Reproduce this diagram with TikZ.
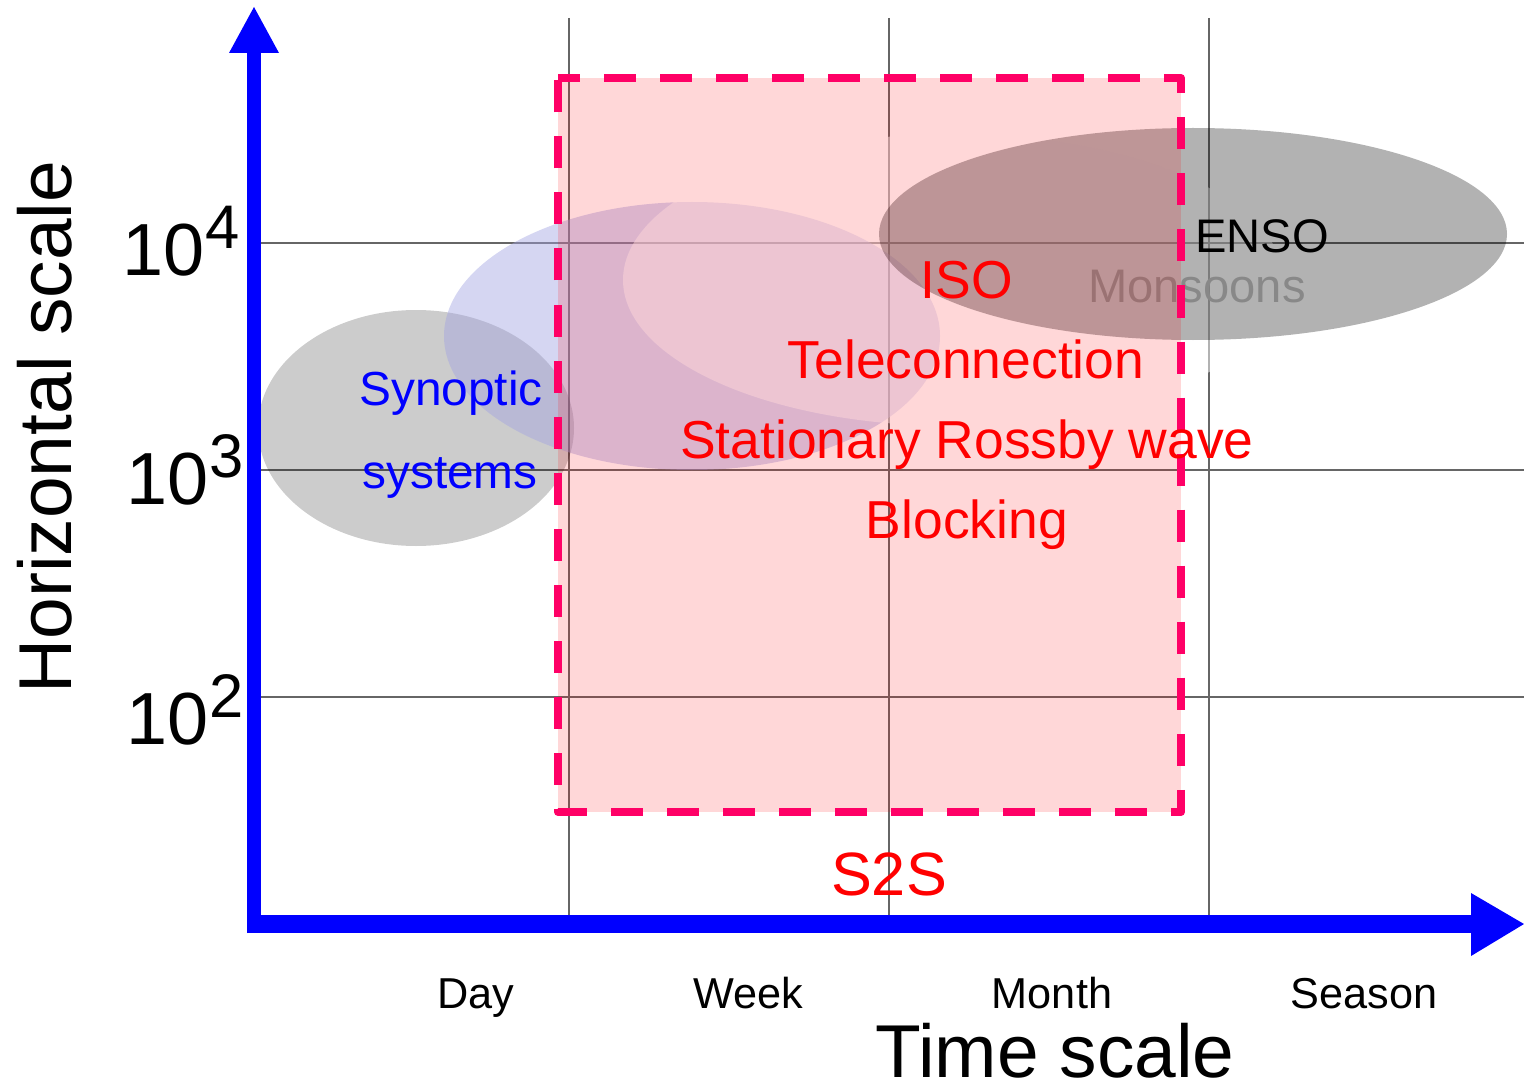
\documentclass[tikz,border=0pt]{standalone}
\usepackage{fontspec}
\setmainfont{Liberation Sans}
\definecolor{gridgray}{HTML}{666666}
\definecolor{axisblue}{HTML}{0000FF}
\definecolor{synlav}{RGB}{162,164,226}
\definecolor{sfill}{RGB}{255,0,6}
\definecolor{dashpink}{HTML}{FF0066}
\definecolor{monsoongray}{HTML}{888888}
\newcommand{\expo}[1]{10\raisebox{0.26cm}{\fontsize{17.5}{20}\selectfont #1}}
\begin{document}
\begin{tikzpicture}[x=0.01cm,y=-0.01cm,
  gridline/.style={draw=gridgray,line width=0.02cm},
  axistitle/.style={font=\fontsize{21.3}{25}\selectfont,inner sep=0pt,anchor=base},
  ticklab/.style={font=\fontsize{12.3}{14}\selectfont,inner sep=0pt,anchor=base},
  ylab/.style={font=\fontsize{21}{24}\selectfont,inner sep=0pt,anchor=base east},
  phen/.style={font=\fontsize{15.2}{18}\selectfont,text=red,inner sep=0pt,anchor=base},
  small/.style={font=\fontsize{13.6}{16}\selectfont,inner sep=0pt,anchor=base}]
\useasboundingbox (0,0) rectangle (1524,1088);

% grid
\foreach \x in {569,889,1209} \draw[gridline] (\x,18) -- (\x,915);
\foreach \y in {243,470,697} \draw[gridline] (261,\y) -- (1524,\y);

% phenomenon regions
\fill[black,opacity=0.2] (416,428) ellipse [x radius=158, y radius=118];
\fill[synlav,opacity=0.45] (692,336) ellipse [x radius=248, y radius=134];
\fill[white,opacity=0.5] (953,280) ellipse [x radius=330, y radius=146];
\fill[black,opacity=0.3] (1193,234) ellipse [x radius=314, y radius=106];
\node[small,font=\fontsize{13.4}{16}\selectfont,text=monsoongray] (monsoons) at (1197,302) {Monsoons};

% S2S window
\fill[sfill,opacity=0.157] (558,78) rectangle (1181,812);
\draw[dashpink,line width=0.08cm,dash pattern=on 0.32cm off 0.24cm,dash phase=0.1cm,line join=round]
  (558,78) -- (1181,78) -- (1181,812) -- (558,812) -- cycle;

% axes
\draw[axisblue,line width=0.14cm] (254,933) -- (254,50);
\fill[axisblue] (229,53) -- (254,7) -- (279,53) -- cycle;
\draw[axisblue,line width=0.18cm] (247,924) -- (1474,924);
\fill[axisblue] (1471,893) -- (1524,924) -- (1471,956) -- cycle;

% labels
\node[axistitle,rotate=90] (ytitle) at (71,427) {Horizontal scale};
\node[axistitle] (xtitle) at (1055,1077) {Time scale};
\node[ticklab] (day) at (476,1008) {Day};
\node[ticklab] (week) at (748,1008) {Week};
\node[ticklab] (month) at (1052,1008) {Month};
\node[ticklab] (season) at (1364,1008) {Season};
\node[ylab] (e4) at (240,275) {\expo{4}};
\node[ylab] (e3) at (244,504) {\expo{3}};
\node[ylab] (e2) at (244,744) {\expo{2}};

\node[small,text=axisblue] (syn1) at (451,406) {Synoptic};
\node[small,text=axisblue] (syn2) at (450,488) {systems};
\node[small,font=\fontsize{13.4}{16}\selectfont] (enso) at (1262,252) {ENSO};
\node[phen] (iso) at (967,298) {ISO};
\node[phen] (tele) at (966,378) {Teleconnection};
\node[phen] (rossby) at (967,458) {Stationary Rossby wave};
\node[phen] (block) at (967,538) {Blocking};
\node[phen,font=\fontsize{17.4}{20}\selectfont] (s2s) at (889,895) {S2S};
\end{tikzpicture}
\end{document}
